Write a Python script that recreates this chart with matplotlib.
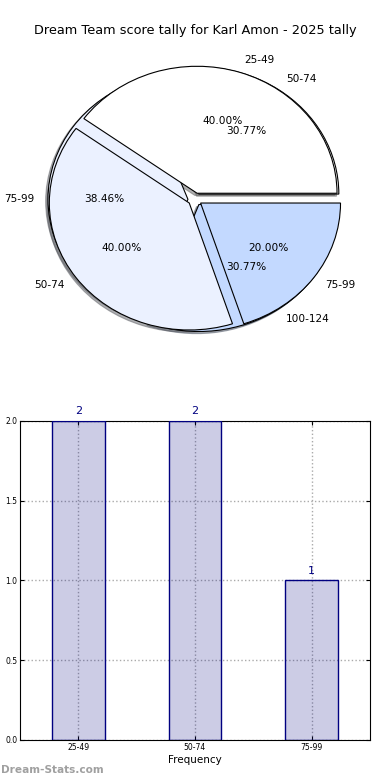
import numpy as np
import matplotlib
matplotlib.use('Agg')
import matplotlib.pyplot as plt

# data: two tallies shown in the pie, frequency bars below
pie1_labels = ['25-49', '50-74', '75-99']
pie1_counts = [2, 2, 1]
pie2_labels = ['50-74', '75-99', '100-124']
pie2_counts = [4, 5, 4]
bar_labels = ['25-49', '50-74', '75-99']
bar_counts = [2, 2, 1]

pie_colors = ['#FFFFFF', '#EBF1FF', '#C3D9FF']

fig = plt.figure(figsize=(3.9, 7.8), dpi=100)

# PIE
ax1 = fig.add_axes([0.0513, 0.541, 0.897, 0.407])
wp = {'edgecolor': 'black', 'linewidth': 0.8}
tp = {'fontsize': 7.6}
shd = {'ox': -0.012, 'oy': -0.012, 'shade': 0.6}
ax1.pie(pie2_counts, labels=pie2_labels, colors=pie_colors, explode=[0.05]*3,
        autopct='%1.2f%%', shadow=shd, wedgeprops=wp, textprops=tp)
ax1.pie(pie1_counts, labels=pie1_labels, colors=pie_colors, explode=[0.05]*3,
        autopct='%1.2f%%', shadow=shd, wedgeprops=wp, textprops=tp)
ax1.set_aspect('auto')
ax1.set_xlim(-1.25, 1.25)
ax1.set_ylim(-1.25, 1.25)
ax1.set_title('Dream Team score tally for Karl Amon - 2025 tally', fontsize=9.3, pad=5)

# BARS
ax2 = fig.add_axes([0.0513, 0.0513, 0.897, 0.409])
x = np.arange(len(bar_counts))
ax2.bar(x, bar_counts, width=0.45, color='navy', alpha=0.2, zorder=2)
ax2.bar(x, bar_counts, width=0.45, fill=False, edgecolor='navy', linewidth=1, zorder=3)
for xi, c in zip(x, bar_counts):
    ax2.text(xi, c + 0.03, str(c), ha='center', va='bottom', color='navy', fontsize=8)
ax2.set_xlim(-0.5, 2.5)
ax2.set_ylim(0, 2)
ax2.set_xticks(x)
ax2.set_xticklabels(bar_labels)
ax2.set_yticks([0.0, 0.5, 1.0, 1.5, 2.0])
ax2.set_yticklabels(['0.0', '0.5', '1.0', '1.5', '2.0'])
ax2.tick_params(direction='in', top=True, right=True, labelsize=5.5, length=3, pad=2)
ax2.grid(True, linestyle=':', color='#aaaaaa', linewidth=1, zorder=0)
ax2.set_axisbelow(True)
ax2.set_xlabel('Frequency', fontsize=7.5, labelpad=2.5)

fig.text(0.002, 0.006, 'Dream-Stats.com', fontsize=7.6, color='#a0a0a0', fontweight='bold', ha='left', va='bottom')

plt.savefig('out.png', dpi=100)
